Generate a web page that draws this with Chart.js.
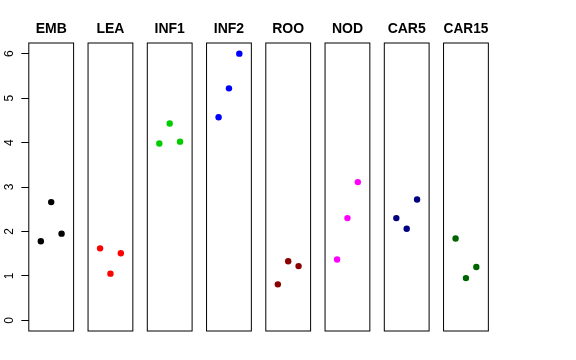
<!DOCTYPE html>
<html>
<head>
<meta charset="utf-8">
<script src="https://cdn.jsdelivr.net/npm/chart.js@4"></script>
<style>
  body { margin: 0; background: #fff; }
  #wrap { position: relative; width: 576px; height: 360px; }
  #wrap canvas { position: absolute; top: 0; }
</style>
</head>
<body>
<div id="wrap"></div>
<script>
// categories and colours
const categories = ["EMB", "LEA", "INF1", "INF2", "ROO", "NOD", "CAR5", "CAR15"];
const colors = ["#000000", "#FF0000", "#00CD00", "#0000FF", "#8B0000", "#FF00FF", "#000080", "#006400"];

// three replicates per tissue, plotted at x = 1, 2, 3
const xPos = [1, 2, 3];
const EMB = [1.78, 2.66, 1.95];
const LEA = [1.62, 1.05, 1.51];
const INF1 = [3.98, 4.43, 4.02];
const INF2 = [4.57, 5.22, 6.00];
const ROO = [0.81, 1.33, 1.22];
const NOD = [1.37, 2.30, 3.11];
const CAR5 = [2.30, 2.06, 2.72];
const CAR15 = [1.84, 0.95, 1.20];
const series = [EMB, LEA, INF1, INF2, ROO, NOD, CAR5, CAR15];

// y axis ticks
const yTicks = [0, 1, 2, 3, 4, 5, 6];
const yTickLabels = ["0", "1", "2", "3", "4", "5", "6"];

// panel geometry
const H = 360;
const firstLeft = 28.8;
const stride = 59.25;
const boxW = 44.8;
const plotBottom = 331;
const margin = 8;

const fontFamily = "'Liberation Sans', Arial, Helvetica, sans-serif";

// draws the panel frame
const boxPlugin = {
  id: "box",
  afterDraw(chart) {
    const a = chart.chartArea;
    const ctx = chart.ctx;
    ctx.save();
    ctx.strokeStyle = "#000";
    ctx.lineWidth = 1;
    ctx.strokeRect(a.left, a.top, a.right - a.left, a.bottom - a.top);
    ctx.restore();
  }
};

// rotated y tick labels, like R's default las = 0
const yLabelPlugin = {
  id: "yLabels",
  afterDraw(chart) {
    const ctx = chart.ctx;
    const y = chart.scales.y;
    ctx.save();
    ctx.fillStyle = "#000";
    ctx.font = "12px " + fontFamily;
    ctx.textAlign = "center";
    ctx.textBaseline = "alphabetic";
    yTicks.forEach((v, i) => {
      ctx.save();
      ctx.translate(12.6, y.getPixelForValue(v));
      ctx.rotate(-Math.PI / 2);
      ctx.fillText(yTickLabels[i], 0, 0);
      ctx.restore();
    });
    ctx.restore();
  }
};

const wrap = document.getElementById("wrap");

categories.forEach((name, i) => {
  const first = i === 0;
  const boxLeft = firstLeft + stride * i;
  const center = boxLeft + boxW / 2;

  let cssLeft, width, padLeft, padRight;
  if (first) {
    cssLeft = 0;
    width = Math.round(firstLeft + boxW + margin);
    padLeft = 0; // the y axis takes firstLeft
    padRight = width - firstLeft - boxW;
  } else {
    width = Math.round(boxW + 2 * margin);
    cssLeft = Math.round(center - width / 2);
    padLeft = boxLeft - cssLeft;
    padRight = width - padLeft - boxW;
  }

  const canvas = document.createElement("canvas");
  canvas.width = width;
  canvas.height = H;
  canvas.style.left = cssLeft + "px";
  wrap.appendChild(canvas);

  const yScale = {
    type: "linear",
    min: -0.24,
    max: 6.24,
    display: first,
    afterBuildTicks: (scale) => { scale.ticks = yTicks.map(v => ({ value: v })); },
    ticks: { display: false },
    border: { display: false },
    grid: { drawOnChartArea: false, drawTicks: true, tickLength: 7.5, color: "#000", lineWidth: 1 }
  };
  if (first) {
    yScale.afterFit = (scale) => { scale.width = firstLeft; };
  }

  new Chart(canvas.getContext("2d"), {
    type: "scatter",
    data: {
      datasets: [{
        data: series[i].map((v, k) => ({ x: xPos[k], y: v })),
        backgroundColor: colors[i],
        borderColor: colors[i],
        pointRadius: 3.2,
        pointBorderWidth: 0
      }]
    },
    options: {
      responsive: false,
      animation: false,
      events: [],
      layout: {
        padding: { left: padLeft, right: padRight, top: 0, bottom: H - plotBottom }
      },
      plugins: {
        legend: { display: false },
        tooltip: { enabled: false },
        title: {
          display: true,
          text: name,
          fullSize: false,
          color: "#000",
          font: { family: fontFamily, size: 14, weight: "bold", lineHeight: 1.2 },
          padding: { top: 20.9, bottom: 5.3 }
        }
      },
      scales: {
        x: { type: "linear", min: -0.16, max: 4.16, display: false },
        y: yScale
      }
    },
    plugins: first ? [boxPlugin, yLabelPlugin] : [boxPlugin]
  });
});
</script>
</body>
</html>
